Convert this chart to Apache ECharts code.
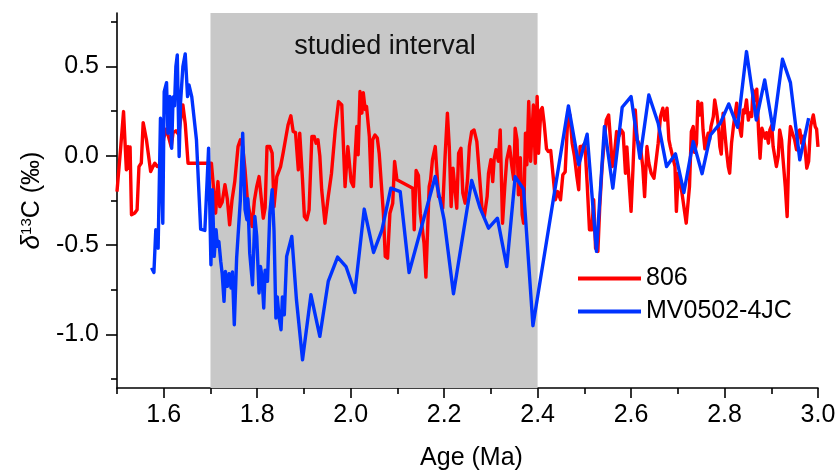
<!DOCTYPE html>
<html>
<head>
<meta charset="utf-8">
<script src="https://cdn.jsdelivr.net/npm/echarts@6/dist/echarts.min.js"></script>
<style>html,body{margin:0;padding:0;background:#fff}#c{width:840px;height:476px}</style>
</head>
<body>
<div id="c"></div>
<script>
// ---- Data ----
const age806 = [1.500,1.503,1.508,1.514,1.520,1.524,1.526,1.528,1.531,1.538,1.543,1.547,1.552,1.556,1.563,1.572,1.577,1.581,1.586,1.593,1.600,1.606,1.611,1.616,1.620,1.626,1.632,1.636,1.641,1.646,1.652,1.702,1.706,1.711,1.716,1.720,1.725,1.731,1.736,1.741,1.746,1.752,1.759,1.764,1.769,1.774,1.779,1.784,1.789,1.794,1.799,1.804,1.808,1.813,1.817,1.821,1.827,1.832,1.836,1.842,1.846,1.850,1.856,1.861,1.866,1.872,1.877,1.882,1.888,1.891,1.897,1.901,1.906,1.911,1.917,1.922,1.926,1.930,1.934,1.938,1.945,1.952,1.959,1.967,1.974,1.981,1.988,1.994,1.997,2.001,2.006,2.013,2.016,2.020,2.024,2.027,2.031,2.034,2.040,2.044,2.047,2.052,2.057,2.061,2.065,2.070,2.074,2.079,2.084,2.090,2.094,2.099,2.133,2.136,2.140,2.145,2.149,2.153,2.157,2.161,2.165,2.168,2.171,2.175,2.181,2.184,2.188,2.193,2.197,2.202,2.207,2.211,2.215,2.219,2.224,2.227,2.231,2.236,2.240,2.245,2.250,2.254,2.259,2.264,2.270,2.275,2.281,2.286,2.292,2.295,2.300,2.304,2.307,2.311,2.316,2.320,2.325,2.330,2.334,2.340,2.345,2.349,2.352,2.356,2.359,2.363,2.367,2.370,2.374,2.377,2.381,2.385,2.388,2.391,2.395,2.399,2.402,2.407,2.410,2.414,2.419,2.423,2.428,2.433,2.438,2.443,2.449,2.454,2.459,2.464,2.469,2.474,2.479,2.484,2.488,2.491,2.496,2.501,2.506,2.511,2.516,2.520,2.524,2.529,2.533,2.538,2.543,2.547,2.552,2.556,2.560,2.564,2.569,2.574,2.579,2.583,2.588,2.591,2.595,2.600,2.604,2.609,2.613,2.620,2.625,2.629,2.634,2.638,2.643,2.649,2.653,2.658,2.663,2.668,2.672,2.677,2.681,2.684,2.689,2.694,2.697,2.701,2.705,2.709,2.713,2.718,2.722,2.725,2.729,2.733,2.736,2.740,2.743,2.747,2.751,2.754,2.758,2.761,2.765,2.768,2.771,2.776,2.779,2.783,2.787,2.790,2.793,2.797,2.800,2.804,2.808,2.811,2.815,2.819,2.822,2.826,2.829,2.832,2.836,2.840,2.843,2.847,2.851,2.854,2.858,2.861,2.865,2.869,2.873,2.876,2.880,2.883,2.887,2.890,2.894,2.897,2.901,2.904,2.908,2.911,2.915,2.918,2.922,2.925,2.930,2.934,2.938,2.941,2.945,2.950,2.954,2.957,2.961,2.965,2.968,2.972,2.976,2.980,2.984,2.990,2.994,2.997,3.000];
const d13C806 = [-0.20,-0.20,0.05,0.248,-0.078,0.052,-0.07,0.05,-0.33,-0.32,-0.302,-0.06,-0.04,0.186,0.09,-0.088,-0.06,-0.041,-0.06,-0.05,0.10,0.15,0.10,0.05,0.13,0.14,0.12,0.20,0.285,0.18,-0.041,-0.041,-0.162,-0.321,-0.144,-0.284,-0.26,-0.162,-0.24,-0.386,-0.25,-0.144,0.052,0.09,0.05,-0.078,-0.246,-0.321,-0.396,-0.25,-0.172,-0.116,-0.11,-0.349,-0.29,0.052,0.052,0.015,-0.284,-0.116,-0.116,-0.06,0.024,0.099,0.173,0.224,0.136,0.13,-0.078,0.127,-0.134,-0.34,-0.358,-0.302,0.108,0.108,0.071,0.09,0.00,-0.19,-0.377,-0.228,-0.097,0.145,0.304,0.285,-0.172,0.052,0.052,-0.144,-0.172,0.164,0.006,0.36,0.239,0.354,0.26,0.276,0.108,-0.172,0.09,0.117,0.10,0.015,0.01,-0.321,-0.563,-0.573,-0.321,-0.265,-0.032,-0.134,-0.181,-0.414,-0.082,-0.11,-0.321,-0.40,-0.489,-0.679,-0.67,-0.172,-0.134,-0.022,0.052,0.06,-0.228,-0.24,-0.293,-0.004,0.239,0.052,-0.284,-0.069,-0.209,-0.293,0.015,0.043,-0.209,-0.265,-0.134,0.052,0.136,0.145,0.08,-0.09,-0.293,-0.34,-0.228,-0.097,-0.022,-0.144,-0.02,0.034,-0.03,0.145,-0.377,-0.162,-0.022,0.052,-0.06,-0.134,0.155,0.09,-0.218,-0.01,-0.33,-0.377,0.127,-0.05,0.304,-0.03,0.13,0.285,-0.041,0.332,0.015,0.257,0.27,0.183,0.04,0.024,0.03,-0.106,-0.246,-0.20,-0.246,-0.106,-0.09,0.183,0.229,0.071,-0.004,-0.116,-0.19,0.052,0.052,0.071,-0.153,-0.414,-0.414,-0.246,-0.517,-0.535,-0.284,-0.06,0.09,0.201,0.229,0.09,-0.06,0.0,0.136,0.11,0.145,0.13,-0.097,0.05,-0.116,-0.311,-0.078,0.257,0.09,0.052,-0.06,-0.228,0.052,-0.04,-0.097,-0.125,-0.13,0.071,0.22,0.267,0.20,0.267,0.09,0.052,-0.004,-0.06,-0.311,-0.097,-0.09,-0.209,-0.22,-0.377,-0.368,-0.172,0.136,0.164,0.02,0.07,0.304,0.229,0.295,0.145,0.04,0.034,0.127,0.09,0.164,0.22,0.313,0.25,0.164,0.052,0.01,0.239,0.15,0.034,-0.06,-0.097,0.071,0.164,0.164,0.295,0.21,0.164,0.11,0.257,0.24,0.313,0.20,0.24,0.22,0.369,0.31,0.373,0.127,-0.013,0.155,0.13,0.099,0.13,0.071,0.145,0.17,0.052,0.052,-0.06,0.0,0.145,0.09,-0.013,-0.172,-0.34,0.052,0.164,0.13,0.09,0.034,0.127,0.145,0.071,0.11,0.05,-0.069,-0.03,0.164,0.229,0.164,0.15,0.05];

const ageMV = [1.574,1.579,1.583,1.586,1.588,1.591,1.593,1.598,1.601,1.606,1.609,1.613,1.617,1.620,1.623,1.626,1.629,1.633,1.636,1.641,1.646,1.651,1.654,1.660,1.670,1.679,1.688,1.696,1.701,1.704,1.708,1.712,1.715,1.718,1.722,1.725,1.729,1.732,1.736,1.740,1.744,1.747,1.751,1.756,1.764,1.769,1.774,1.778,1.780,1.784,1.790,1.795,1.799,1.804,1.807,1.810,1.814,1.817,1.822,1.827,1.832,1.836,1.840,1.843,1.847,1.851,1.854,1.858,1.863,1.874,1.884,1.897,1.915,1.934,1.952,1.972,1.990,2.009,2.029,2.049,2.067,2.086,2.106,2.125,2.181,2.200,2.220,2.259,2.277,2.295,2.314,2.334,2.352,2.370,2.390,2.466,2.488,2.506,2.526,2.543,2.561,2.581,2.600,2.619,2.638,2.658,2.676,2.695,2.713,2.733,2.752,2.770,2.791,2.809,2.828,2.847,2.868,2.886,2.904,2.924,2.941,2.961,2.980];
const d13CMV = [-0.627,-0.653,-0.414,-0.414,-0.517,-0.517,0.211,-0.377,0.36,0.41,0.127,0.332,0.043,0.33,0.28,0.5,0.565,-0.004,0.30,0.5,0.571,0.332,0.397,0.33,0.09,-0.41,-0.418,0.043,-0.61,-0.19,-0.563,-0.414,-0.507,-0.48,-0.591,-0.657,-0.815,-0.647,-0.731,-0.66,-0.74,-0.65,-0.946,-0.573,-0.246,0.127,-0.302,-0.358,-0.24,-0.545,-0.722,-0.34,-0.45,-0.768,-0.62,-0.67,-0.852,-0.64,-0.703,-0.321,-0.19,-0.42,-0.908,-0.79,-0.908,-0.974,-0.79,-0.89,-0.563,-0.451,-0.806,-1.142,-0.778,-1.011,-0.703,-0.567,-0.62,-0.765,-0.298,-0.541,-0.414,-0.181,-0.2,-0.653,-0.116,-0.358,-0.772,-0.138,-0.293,-0.405,-0.349,-0.62,-0.116,-0.187,-0.951,0.28,-0.05,0.121,-0.535,0.164,-0.181,0.272,0.332,-0.013,0.341,0.183,-0.06,0.011,-0.205,0.08,-0.1,0.117,0.183,0.291,0.16,0.584,0.201,0.425,0.146,0.541,0.41,-0.022,0.211];

const seriesNames = ['806', 'MV0502-4JC'];
const xLabelValues = [1.6,1.8,2.0,2.2,2.4,2.6,2.8,3.0];
const xMinorTicks = [1.5,1.7,1.9,2.1,2.3,2.5,2.7,2.9];
const yLabelValues = [-1.0,-0.5,0.0,0.5];
const yMinorTicks = [-1.25,-0.75,-0.25,0.25,0.75];
const studiedInterval = [1.7, 2.4];
const studiedLabel = 'studied interval';

const zip = (a, b) => a.map((v, i) => [v, b[i]]);
const FONT = 'Arial, "Liberation Sans", Helvetica, sans-serif';

const chart = echarts.init(document.getElementById('c'), null, {renderer: 'canvas'});
const axisLineStyle = {color: '#000', width: 1.6};
chart.setOption({
  animation: false,
  backgroundColor: '#fff',
  grid: {left: 117, right: 22, top: 13, bottom: 88, containLabel: false},
  legend: {
    left: 573, top: 261, orient: 'vertical', itemWidth: 63, itemHeight: 4, itemGap: 8,
    icon: 'rect',
    textStyle: {fontFamily: FONT, fontSize: 25, color: '#000'},
    data: seriesNames
  },
  xAxis: [{
    type: 'value', min: 1.5, max: 3.0, position: 'bottom',
    name: 'Age (Ma)', nameLocation: 'middle', nameGap: 58,
    nameTextStyle: {fontFamily: FONT, fontSize: 25, color: '#000', padding: [0,0,0,8]},
    axisLine: {show: true, onZero: false, lineStyle: axisLineStyle},
    axisTick: {show: true, length: 10, lineStyle: axisLineStyle, customValues: xLabelValues},
    axisLabel: {customValues: xLabelValues, fontFamily: FONT, fontSize: 25, color: '#000', margin: 15,
      formatter: v => v.toFixed(1)},
    splitLine: {show: false}
  }, {
    type: 'value', min: 1.5, max: 3.0, position: 'bottom', offset: 0,
    axisLine: {show: false, onZero: false},
    axisTick: {show: true, length: 6, lineStyle: axisLineStyle, customValues: xMinorTicks},
    axisLabel: {show: false},
    splitLine: {show: false}
  }],
  yAxis: [{
    type: 'value', min: -1.3, max: 0.8, position: 'left',
    name: '{d|δ}{s|13}{n|C (‰)}', nameLocation: 'middle', nameGap: 70, nameRotate: 90,
    nameTextStyle: {fontFamily: FONT, fontSize: 25, color: '#000',
      rich: {
        d: {fontFamily: FONT, fontSize: 26, fontStyle: 'italic', color: '#000'},
        s: {fontFamily: FONT, fontSize: 15, color: '#000', verticalAlign: 'top', padding: [0,0,10,0]},
        n: {fontFamily: FONT, fontSize: 25, color: '#000'}
      }},
    axisLine: {show: true, onZero: false, lineStyle: axisLineStyle},
    axisTick: {show: true, length: 11, lineStyle: axisLineStyle, customValues: yLabelValues},
    axisLabel: {customValues: yLabelValues, fontFamily: FONT, fontSize: 25, color: '#000', margin: 18,
      formatter: v => v.toFixed(1)},
    splitLine: {show: false}
  }, {
    type: 'value', min: -1.3, max: 0.8, position: 'left', offset: 0,
    axisLine: {show: false, onZero: false},
    axisTick: {show: true, length: 6, lineStyle: axisLineStyle, customValues: yMinorTicks},
    axisLabel: {show: false},
    splitLine: {show: false}
  }],
  series: [{
    name: seriesNames[0], type: 'line', xAxisIndex: 0, yAxisIndex: 0,
    data: zip(age806, d13C806), symbol: 'none',
    lineStyle: {color: '#ff0000', width: 3.4, join: 'round'}, itemStyle: {color: '#ff0000'},
    markArea: {
      silent: true,
      itemStyle: {color: '#c8c8c8'},
      label: {show: true, position: 'insideTop', distance: 20, offset: [11, 0], formatter: studiedLabel,
        fontFamily: FONT, fontSize: 27, color: '#111'},
      data: [[{xAxis: studiedInterval[0]}, {xAxis: studiedInterval[1]}]]
    }
  }, {
    name: seriesNames[1], type: 'line', xAxisIndex: 0, yAxisIndex: 0,
    data: zip(ageMV, d13CMV), symbol: 'none',
    lineStyle: {color: '#0033ff', width: 3.4, join: 'round'}, itemStyle: {color: '#0033ff'}
  }]
});
</script>
</body>
</html>
